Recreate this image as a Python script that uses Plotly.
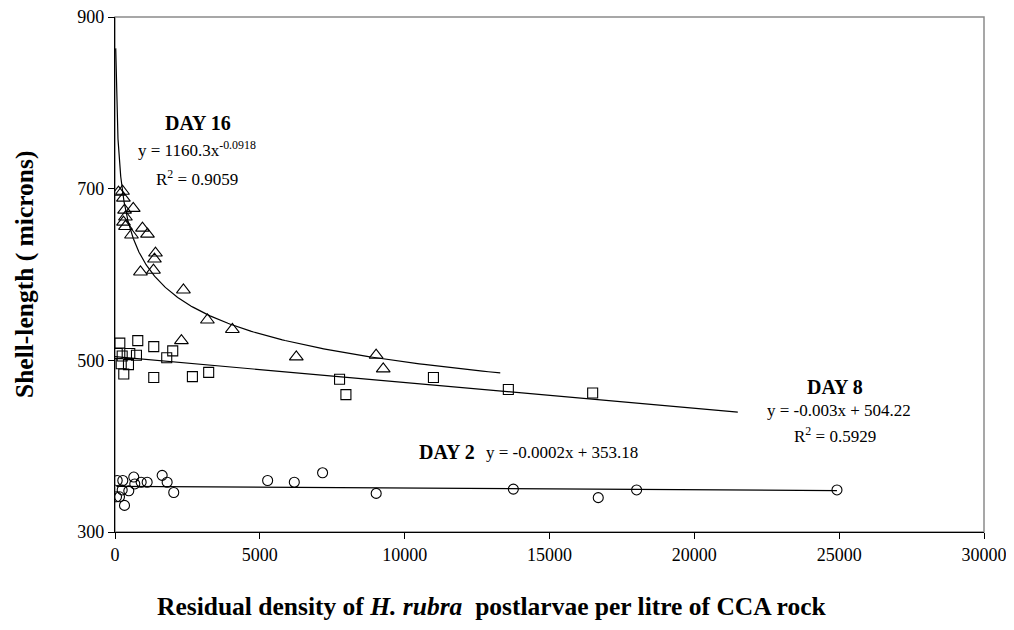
import numpy as np
import plotly.graph_objects as go

# ---- data ----
day16_x = [120, 260, 290, 330, 630, 360, 293, 362, 569, 948, 1121, 1397, 1362, 879, 1328,
           2362, 3190, 4052, 2293, 6259, 9014, 9260]
day16_y = [696, 697, 689, 675, 677, 667, 661, 656, 646, 654, 647, 625, 618, 603, 605,
           582, 547, 536, 523, 504, 506, 490]

day8_x = [166, 786, 1338, 1993, 1786, 76, 248, 510, 741, 214, 465, 303, 1338, 2672, 3234,
          7752, 7972, 10993, 13579, 16490]
day8_y = [520, 523, 516, 511, 503, 508, 505, 508, 506, 496, 495, 484, 480, 481, 486,
          478, 460, 480, 466, 462]

day2_x = [76, 269, 648, 683, 903, 1110, 1628, 1800, 2028, 52, 155, 328, 476, 248,
          5269, 6190, 7166, 9017, 13752, 16683, 18007, 24924]
day2_y = [360, 360, 364, 356, 358, 358, 366, 358, 346, 341, 341, 331, 348, 349,
          360, 358, 369, 345, 350, 340, 349, 349]

# trendline coefficients and extents
d16_a, d16_b = 1160.3, -0.0918
d16_range = [25, 13300]
d8_m, d8_c = -0.003, 504.22
d8_range = [0, 21500]
d2_m, d2_c = -0.0002, 353.18
d2_range = [50, 24924]

x_ticks = [0, 5000, 10000, 15000, 20000, 25000, 30000]
y_ticks = [300, 500, 700, 900]

FONT = "Liberation Serif"

fig = go.Figure()

# trendlines
fx16 = np.geomspace(d16_range[0], d16_range[1], 400)
fig.add_trace(go.Scatter(x=fx16, y=d16_a * fx16 ** d16_b, mode="lines",
                         line=dict(color="black", width=1.2), showlegend=False, hoverinfo="skip"))
fx8 = np.array(d8_range, dtype=float)
fig.add_trace(go.Scatter(x=fx8, y=d8_m * fx8 + d8_c, mode="lines",
                         line=dict(color="black", width=1.2), showlegend=False, hoverinfo="skip"))
fx2 = np.array(d2_range, dtype=float)
fig.add_trace(go.Scatter(x=fx2, y=d2_m * fx2 + d2_c, mode="lines",
                         line=dict(color="black", width=1.2), showlegend=False, hoverinfo="skip"))

# markers
fig.add_trace(go.Scatter(x=day16_x, y=day16_y, mode="markers", name="DAY 16",
                         marker=dict(symbol="triangle-up-open", size=12, color="black",
                                     line=dict(width=1.1)), showlegend=False))
fig.add_trace(go.Scatter(x=day8_x, y=day8_y, mode="markers", name="DAY 8",
                         marker=dict(symbol="square-open", size=10, color="black",
                                     line=dict(width=1.1)), showlegend=False))
fig.add_trace(go.Scatter(x=day2_x, y=day2_y, mode="markers", name="DAY 2",
                         marker=dict(symbol="circle-open", size=10, color="black",
                                     line=dict(width=1.1)), showlegend=False))

lab_font = dict(family=FONT, size=20, color="black")
eq_font = dict(family=FONT, size=17, color="black")
annotations = [
    dict(x=2879, y=777, text="<b>DAY 16</b>", font=lab_font),
    dict(x=2845, y=746, text="y = 1160.3x<sup>-0.0918</sup>", font=eq_font),
    dict(x=2845, y=713, text="R<sup>2</sup> = 0.9059", font=eq_font),
    dict(x=24845, y=469, text="<b>DAY 8</b>", font=lab_font),
    dict(x=24983, y=441, text="y = -0.003x + 504.22", font=eq_font),
    dict(x=24845, y=413, text="R<sup>2</sup> = 0.5929", font=eq_font),
    dict(x=11466, y=393, text="<b>DAY 2</b>", font=lab_font),
    dict(x=15431, y=393, text="y = -0.0002x + 353.18", font=eq_font),
]
for a in annotations:
    a.update(xref="x", yref="y", showarrow=False)

# axis titles
annotations.append(dict(xref="paper", yref="paper", x=0.4338, y=-0.1456,
                        xanchor="center", yanchor="middle", showarrow=False,
                        text="<b>Residual density of <i>H. rubra</i>  postlarvae per litre of CCA rock</b>",
                        font=dict(family=FONT, size=25.5, color="black")))
annotations.append(dict(xref="paper", yref="paper", x=-0.1047, y=0.499,
                        xanchor="center", yanchor="middle", showarrow=False, textangle=-90,
                        text="<b>Shell-length ( microns)</b>",
                        font=dict(family=FONT, size=25.5, color="black")))

fig.update_layout(
    width=1006, height=622,
    margin=dict(l=107, r=30, t=9, b=98, autoexpand=False),
    paper_bgcolor="white", plot_bgcolor="white",
    font=dict(family=FONT, color="black"),
    annotations=annotations,
    shapes=[dict(type="rect", xref="paper", yref="paper", x0=0, y0=0, x1=1, y1=1,
                 line=dict(color="#8a8a8a", width=1.5), layer="below")],
)
fig.update_xaxes(range=[0, 30000], tickvals=x_ticks, ticktext=[str(v) for v in x_ticks],
                 showgrid=False, zeroline=False, showline=True, linecolor="black", linewidth=1.2,
                 ticks="outside", ticklen=6, tickcolor="black", ticklabeloverflow="allow",
                 automargin=False, tickfont=dict(family=FONT, size=18))
fig.update_yaxes(range=[300, 900], tickvals=y_ticks, ticktext=[str(v) for v in y_ticks],
                 showgrid=False, zeroline=False, showline=True, linecolor="black", linewidth=1.2,
                 ticks="outside", ticklen=6, tickcolor="black", ticklabeloverflow="allow",
                 automargin=False, tickfont=dict(family=FONT, size=18))

fig.write_html("out.html")
